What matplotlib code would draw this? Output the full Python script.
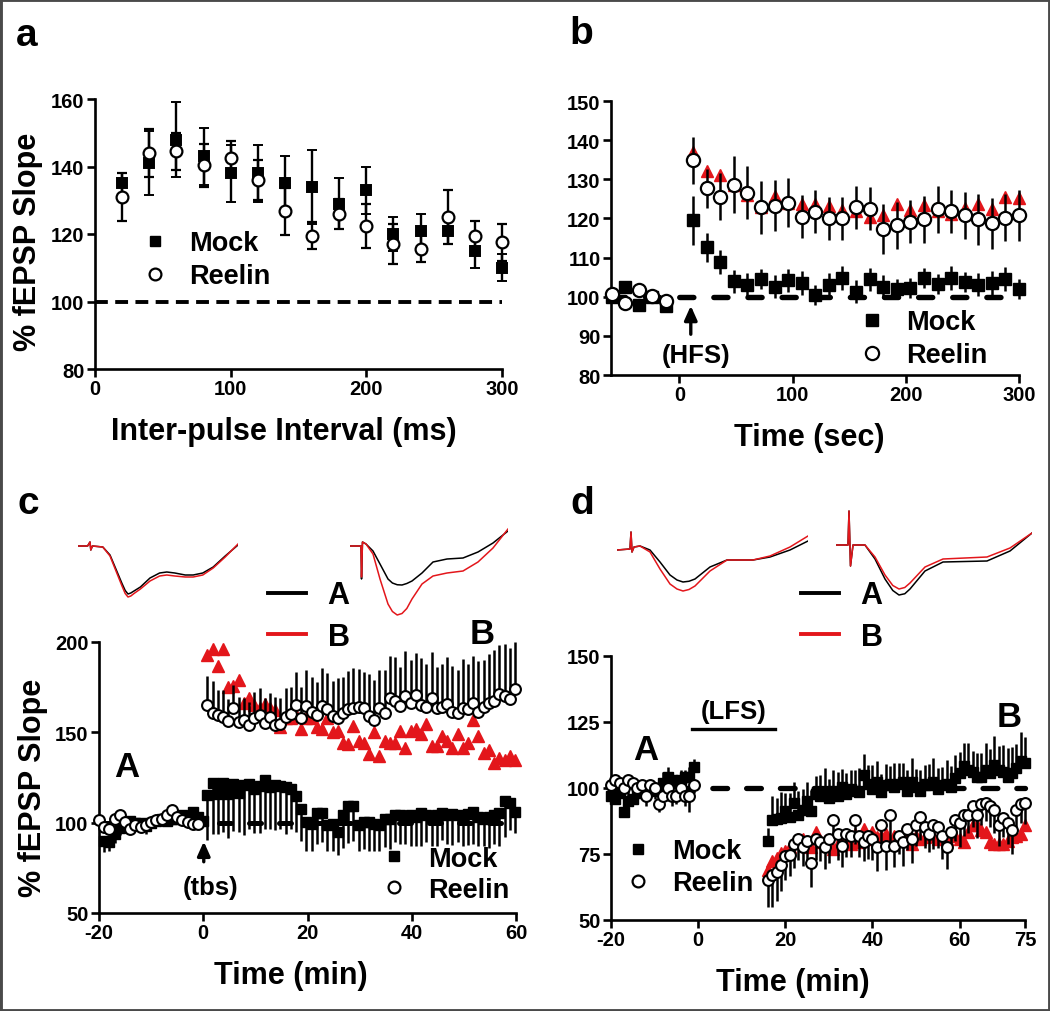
import numpy as np
import matplotlib
matplotlib.use("Agg")
import matplotlib.pyplot as plt
from matplotlib.lines import Line2D
from matplotlib.patches import Rectangle

plt.rcParams['font.family'] = ['Liberation Sans', 'DejaVu Sans']
plt.rcParams['font.weight'] = 'bold'
plt.rcParams['axes.unicode_minus'] = False

RED = '#e3161b'

# ---------------- Panel a data ----------------
ipi = [20, 40, 60, 80, 100, 120, 140, 160, 180, 200, 220, 240, 260, 280, 300]
mock_a = [135, 141, 148, 143, 138, 138, 135, 134, 129, 133, 120, 121, 121, 115, 110]
mock_a_err = [3, 9.5, 11, 8.5, 8.5, 8.5, 8, 11, 7.5, 7, 5, 5, 4, 5, 4]
reelin_a = [131, 144, 144.5, 140.3, 142.5, 136, 126.7, 119.5, 126, 122.5, 117, 115.7, 125, 119.5, 117.5]
reelin_a_err = [7, 7, 5.5, 6.5, 5, 6, 7, 4, 4.5, 6.5, 6, 4, 8, 4.5, 5.5]

# ---------------- Panel b data ----------------
t_b_pre = [-60, -48, -36, -24, -12]
mock_b_pre = [100, 102.4, 97.9, 100, 97.7]
reelin_b_pre = [100.7, 98.5, 101.6, 100.2, 98.8]
t_b_post = [12, 24, 36, 48, 60, 72, 84, 96, 108, 120, 132, 144, 156, 168, 180,
            192, 204, 216, 228, 240, 252, 264, 276, 288, 300]
mock_b = [119.5, 112.6, 108.9, 103.9, 103.1, 104.5, 102.6, 104.2, 103.5, 100.5, 103.1, 104.8, 101.3,
          104.4, 102.6, 102, 102.2, 104.8, 103.3, 104.8, 103.7, 103.1, 103.5, 104.5, 102]
mock_b_err = [6.3, 3.8, 3, 3, 3, 2.5, 3, 3, 3, 2.5, 3, 3, 3, 3, 3, 2.5, 2.5, 2.5, 2.5, 3, 2.5, 3, 3, 3, 2.5]
reelin_b = [134.8, 127.7, 125.5, 128.6, 126.6, 122.8, 123.2, 124, 120.4, 121.7, 120.1, 120.1, 122.9,
            122.5, 117.3, 118.2, 119.2, 119.8, 122.3, 121.8, 120.8, 119.8, 118.8, 120.2, 120.8]
reelin_b_err = [6, 5, 6, 7.3, 6.7, 6.7, 6.5, 6.3, 5.5, 5.5, 5.5, 5.5, 5.5, 5.5, 6.5, 6, 5.5, 6,
                6, 5.5, 6, 6.5, 6.5, 6, 6.5]
red_b = [137, 132, 131, 128.6, 126, 123, 125.8, 124, 123.6, 123.8, 123.2, 122.1, 122, 120.4, 120.8,
         123.8, 122.1, 123.4, 122, 121.2, 122.7, 123.8, 122.5, 125.5, 125.1]

# ---------------- Panel c data ----------------
t_c_pre_reelin = np.arange(-20, 0)
t_c_pre_mock = np.arange(-19, 1)
t_c_post = np.arange(1, 61) - 0.2
mock_c_pre = [90, 89.5, 94, 97, 99, 101, 100, 100, 98, 100, 101, 102, 101, 102, 102, 104, 103, 106, 103, 101]
mock_c_pre_err = [6, 5, 5, 4, 4, 4, 3, 3, 4, 3, 3, 3, 3, 3, 3, 3, 3, 4, 3, 3]
reelin_c_pre = [101.3, 97.6, 96.7, 102.2, 104, 100.4, 96.7, 98.5, 97.6, 98.5, 100.4, 101.3, 102.2, 104,
                106.8, 103.1, 101.3, 100.4, 99.4, 99.4]
reelin_c_pre_err = [3, 3, 2, 3, 2, 3, 2, 3, 2, 3, 2, 3, 2, 3, 3, 2, 3, 2, 3, 2]
mock_c = [115.3, 121.8, 115.7, 121.8, 115.7, 121.4, 116.6, 121, 121.4, 118.5,
          120.4, 123.7, 119.5, 121, 120.4, 119.5, 118.5, 114.7, 107.6, 100.4,
          99.4, 105.2, 105.2, 98.5, 99.4, 95, 104.2, 109, 109, 98.5,
          100.4, 100.4, 99.4, 98.5, 102.3, 102.3, 104.2, 104.2, 103.2, 104.2,
          103.2, 105.2, 104.2, 103.2, 104.2, 105.2, 104.2, 104.6, 104.2, 103.2,
          104.6, 106.1, 103.2, 102.3, 103.2, 104.2, 105.2, 111.8, 110.9, 106.1]
mock_c_err = [25, 28, 22, 27, 24, 26, 22, 28, 25, 24, 26, 27, 23, 25, 24, 26, 22, 20, 18, 16,
              15, 17, 16, 14, 15, 13, 18, 20, 19, 14, 15, 16, 15, 14, 16, 17, 15, 16, 15, 17,
              16, 18, 15, 16, 17, 15, 16, 17, 15, 16, 17, 18, 16, 15, 17, 16, 18, 20, 15, 12]
reelin_c = [165.4, 160.6, 159.6, 158.7, 156.4, 163.4, 155.8, 156.8, 153.9, 158.1,
            159.6, 155.2, 158.7, 154.3, 154.8, 158.7, 160, 165.4, 158.1, 164.4,
            161.5, 159.6, 164.4, 162.9, 159.2, 158.1, 160.6, 162.9, 163.4, 163.8,
            163.4, 159.2, 156.8, 163.4, 160.6, 169.2, 167.6, 164.4, 170.1, 166.3,
            170.7, 165.4, 163.8, 169.2, 163.4, 163.8, 165.7, 161.5, 160.6, 163.4,
            162.9, 166.1, 161.5, 163.8, 166.3, 167.6, 171.1, 170.1, 168.6, 174]
reelin_c_err = [16, 18, 14, 15, 12, 13, 14, 12, 13, 14, 15, 14, 13, 15, 14, 16, 15, 18, 17, 20,
                19, 18, 21, 20, 19, 22, 20, 21, 22, 21, 20, 23, 22, 21, 24, 23, 24, 22, 25, 24,
                23, 26, 24, 25, 23, 24, 26, 25, 24, 27, 25, 26, 28, 26, 27, 28, 27, 29, 28, 26]
red_c = [193, 196, 186.8, 196, 174.9, 175.9, 178.7, 166.3, 169.2, 165.4,
         163.4, 165.7, 163.4, 162.5, 152.9, 157.7, 158.1, 159.6, 151.6, 158.1,
         157.7, 152.9, 151.6, 157.7, 150.4, 151, 144.3, 143.4, 153.5, 145.3,
         143.9, 138.2, 150.4, 137.1, 145.3, 144.3, 144, 151, 141.5, 151,
         151.6, 149.1, 154.8, 142.4, 142.4, 148.2, 145.3, 141.5, 149.1, 141.5,
         144.3, 156.8, 148.2, 138.6, 140.1, 132.9, 135.7, 134.8, 136.7, 134.8]

# ---------------- Panel d data ----------------
t_d_pre = np.arange(-20, 0)
t_d_post = np.arange(16, 76)
mock_d_pre = [97, 96, 98, 91, 95, 96, 98, 99, 98, 100, 99, 100, 102, 104, 103, 102, 103, 104, 104, 108]
mock_d_pre_err = [3, 4, 3, 3, 4, 3, 3, 3, 4, 3, 3, 3, 4, 4, 3, 3, 4, 3, 4, 3]
reelin_d_pre = [101, 103, 102, 100, 103, 102, 100, 101, 97, 101, 100, 94, 97, 100, 97, 97, 100, 97, 97, 101]
reelin_d_pre_err = [3, 4, 3, 4, 3, 4, 5, 3, 4, 3, 4, 3, 4, 5, 4, 3, 4, 4, 6, 3]
mock_d = [79.8, 87.9, 88.3, 88.6, 91.2, 89.2, 94.4, 89.9, 91.8, 95.1,
          91.2, 97.7, 97.1, 98.4, 96.4, 99, 97.1, 100.3, 97.7, 99.7,
          99, 98.4, 104.9, 101.6, 99.7, 102.3, 98.4, 101, 101.4, 100.3,
          101.6, 102.3, 99, 102.3, 100.3, 99, 101.6, 101, 102.3, 99.7,
          101, 101.6, 100.3, 103.6, 105.6, 108.2, 106.9, 106.2, 104.2, 104.2,
          106.9, 105.6, 108.8, 106.9, 106.2, 104.2, 105.6, 107.5, 110.1, 109.5]
mock_d_err = [5, 9, 8, 10, 7, 9, 8, 9, 8, 7, 8, 7, 8, 9, 7, 8, 9, 7, 8, 7,
              8, 9, 8, 7, 9, 8, 7, 8, 7, 9, 8, 7, 8, 9, 7, 8, 7, 8, 9, 8,
              7, 9, 8, 9, 8, 9, 10, 8, 9, 9, 10, 9, 11, 9, 10, 11, 10, 9, 11, 10]
reelin_d = [65, 67, 68.3, 70.9, 74.2, 74.8, 78.8, 80.7, 77.5, 80.1,
            71.6, 80.7, 79.4, 77.5, 80.7, 87.9, 82.7, 78.1, 82.7, 82,
            87.9, 82, 79.4, 82, 80.7, 77.5, 86, 78.1, 89.9, 78.1,
            82, 79.4, 84.6, 80.7, 86, 89.2, 85.3, 82.7, 86, 85.3,
            82, 77.5, 83.3, 87.9, 86.6, 89.9, 89.9, 93.1, 89.9, 93.8,
            94.4, 93.1, 91.8, 86, 88.6, 86.6, 84, 91.8, 93.8, 94.4]
reelin_d_err = [10, 12, 11, 10, 9, 8, 9, 8, 7, 8, 9, 8, 7, 8, 9, 8, 10, 8, 9, 8,
                9, 8, 7, 9, 8, 9, 8, 9, 10, 8, 7, 9, 8, 9, 8, 9, 8, 7, 9, 8,
                9, 8, 7, 8, 9, 8, 7, 8, 9, 8, 7, 8, 9, 8, 7, 8, 9, 8, 7, 8]
red_d = [69, 72.2, 73.5, 75.5, 76.1, 77.5, 79.4, 80.7, 80.7, 78.1,
         77.5, 83.3, 79.4, 80.1, 79.4, 76.8, 78.8, 80.7, 81.4, 78.8,
         82.7, 79.4, 84.6, 80.7, 83.3, 81.4, 82, 82.7, 80.1, 82,
         81.4, 80.7, 83.3, 78.8, 82, 80.7, 81.4, 82.7, 82, 80.7,
         82, 80.7, 82.7, 82, 80.7, 79.4, 83.3, 86, 86, 84,
         83.3, 79.4, 78.8, 78.8, 78.8, 80.1, 81.4, 82, 82.7, 86]

# ---------------- Representative traces (ms, mV) ----------------
tr_c1_t = [0, 1.2, 1.5, 1.6, 1.8, 3.1, 4.0, 5.0, 5.5, 5.9, 6.25, 6.6, 7.0, 7.8, 9.0, 10.2, 11.1, 12.1,
           13.4, 14.4, 15.6, 16.9, 18.4, 20.0]
tr_c1_a = [0, 0, 0.16, -0.16, 0, -0.04, -0.36, -1.12, -1.5, -1.78, -1.92, -1.88, -1.8, -1.64, -1.28,
           -1.08, -1.04, -1.08, -1.16, -1.16, -1.08, -0.84, -0.4, 0.04]
tr_c1_b = [0, 0, 0.16, -0.16, 0, -0.04, -0.4, -1.2, -1.6, -1.9, -2.04, -2.0, -1.9, -1.72, -1.4,
           -1.2, -1.16, -1.2, -1.24, -1.24, -1.16, -0.88, -0.44, 0.08]
tr_c2_t = [0, 1.375, 1.44, 1.56, 2.0, 2.875, 3.75, 4.75, 5.3, 5.9, 6.5, 7.1, 7.75, 9.0, 10.375, 12.125,
           14.125, 16.0, 17.875, 19.75]
tr_c2_a = [0, 0, -1.32, 0.16, 0.08, -0.2, -0.72, -1.32, -1.48, -1.55, -1.56, -1.5, -1.4, -1.08, -0.64,
           -0.52, -0.48, -0.24, 0.12, 0.6]
tr_c2_b = [0, 0, -1.24, 0.16, 0.08, -0.32, -1.32, -2.32, -2.62, -2.76, -2.7, -2.5, -2.12, -1.52, -1.2,
           -1.08, -1.0, -0.64, -0.08, 0.68]
tr_d1_t = [0, 1.625, 1.75, 1.875, 2.125, 2.875, 4.125, 5.375, 6.625, 7.5, 8.25, 9.0, 9.75, 11.625,
           13.75, 17.0, 19.125, 21.625, 23.875]
tr_d1_a = [0, 0.04, 0.72, -0.08, 0.12, 0.16, 0, -0.48, -1.0, -1.2, -1.28, -1.25, -1.16, -0.68,
           -0.4, -0.4, -0.28, 0, 0.36]
tr_d1_b = [0, 0.04, 0.72, -0.08, 0.12, 0.16, -0.08, -0.76, -1.36, -1.56, -1.64, -1.58, -1.44, -0.84,
           -0.4, -0.4, -0.24, 0.12, 0.56]
tr_d2_t = [0, 1.5, 1.625, 1.8125, 2.125, 3.625, 4.875, 6.125, 7.1, 7.875, 8.6, 9.25, 11.125, 13.375,
           18.875, 21.75, 24.5]
tr_d2_a = [0, 0, 1.36, -0.84, 0, 0, -0.56, -1.36, -1.82, -2.0, -1.95, -1.76, -1.04, -0.68, -0.64,
           -0.24, 0.48]
tr_d2_b = [0, 0, 1.36, -0.84, 0, 0, -0.48, -1.2, -1.62, -1.76, -1.7, -1.52, -0.88, -0.56, -0.48,
           -0.12, 0.48]

W, H = 1050, 1012
fig = plt.figure(figsize=(W / 100, H / 100), dpi=100)


def px_axes(x0, y0, x1, y1):
    """axes from pixel box (left, top, right, bottom)"""
    return fig.add_axes([x0 / W, 1 - y1 / H, (x1 - x0) / W, (y1 - y0) / H])


def style(ax):
    for s in ['top', 'right']:
        ax.spines[s].set_visible(False)
    for s in ['left', 'bottom']:
        ax.spines[s].set_linewidth(1.9)
    ax.tick_params(direction='out', length=5.5, width=1.9, labelsize=14.5, pad=2)
    for lab in ax.get_xticklabels() + ax.get_yticklabels():
        lab.set_fontweight('bold')


def labels(ax, xl, xpos, yl=None, ypos=None):
    ax.set_xlabel(xl, fontsize=22, fontweight='bold', va='center')
    ax.xaxis.set_label_coords(*xpos)
    if yl:
        ax.set_ylabel(yl, fontsize=22, fontweight='bold', va='center')
        ax.yaxis.set_label_coords(*ypos)


def dashed(ax, x0, x1, lw, dash, cap='round', z=1):
    ax.plot([x0, x1], [100, 100], color='black', lw=lw, linestyle=(0, dash),
            dash_capstyle=cap, zorder=z, clip_on=False)


def legend(ax, anchor, ms_sq, ms_ci, spacing):
    lg = ax.legend(handles=[Line2D([], [], ms=ms_sq, **SQ), Line2D([], [], ms=ms_ci, mew=1.6, **CI)],
                   labels=['Mock', 'Reelin'], loc='center left', bbox_to_anchor=anchor,
                   frameon=False, fontsize=19.5, handlelength=1.0, handletextpad=0.75,
                   labelspacing=spacing, borderpad=0, borderaxespad=0)
    for t in lg.get_texts():
        t.set_fontweight('bold')


SQ = dict(marker='s', color='black', mec='black', linestyle='none', clip_on=False)
CI = dict(marker='o', mfc='white', mec='black', linestyle='none', clip_on=False)
TR = dict(marker='^', color=RED, mec=RED, linestyle='none', clip_on=False)
ARROW = dict(arrowstyle='-|>,head_width=0.38,head_length=0.85', color='black', lw=2.4)

# ================= Panel a =================
axa = px_axes(95, 100, 502, 370)
dashed(axa, 0, 300, 2.8, (3.3, 1.9), cap='butt', z=1)
axa.errorbar(ipi, mock_a, yerr=mock_a_err, ms=7.5, mew=1.4, ecolor='black', elinewidth=1.7,
             capsize=3.8, capthick=1.7, zorder=3, **SQ)
axa.errorbar(ipi, reelin_a, yerr=reelin_a_err, ms=8.5, mew=1.6, ecolor='black', elinewidth=1.7,
             capsize=3.8, capthick=1.7, zorder=4, **CI)
axa.set_xlim(0, 300)
axa.set_ylim(80, 160)
axa.set_xticks([0, 100, 200, 300])
axa.set_yticks([80, 100, 120, 140, 160])
style(axa)
labels(axa, 'Inter-pulse Interval (ms)', (0.464, -0.23), '% fEPSP Slope', (-0.165, 0.475))
legend(axa, (0.115, 0.405), 7.5, 8.5, 0.25)

# ================= Panel b =================
axb = px_axes(611, 102, 1019, 376)
dashed(axb, -60.5, 300, 3.9, (2.6, 3.7), z=1)
axb.plot(t_b_post, red_b, ms=8.5, zorder=2, **TR)
axb.errorbar(t_b_pre + t_b_post, mock_b_pre + mock_b, yerr=[0] * 5 + mock_b_err, ms=8,
             ecolor='black', elinewidth=1.8, zorder=3, **SQ)
axb.errorbar(t_b_pre + t_b_post, reelin_b_pre + reelin_b, yerr=[0] * 5 + reelin_b_err, ms=9.5,
             mew=1.6, ecolor='black', elinewidth=1.8, zorder=4, **CI)
axb.set_xlim(-60.5, 300)
axb.set_ylim(80, 150)
axb.set_xticks([0, 100, 200, 300])
axb.set_yticks([80, 90, 100, 110, 120, 130, 140, 150])
style(axb)
labels(axb, 'Time (sec)', (0.486, -0.225))
axb.annotate('', xy=(10, 98.4), xytext=(10, 89.7), arrowprops=ARROW)
axb.text(14.9, 85, '(HFS)', ha='center', va='center', fontsize=18.5, fontweight='bold')
legend(axb, (0.607, 0.132), 8, 9.5, 0.25)

# ================= Panel c =================
axc = px_axes(99, 643, 516, 914)
dashed(axc, -20, 60, 3.6, (2.4, 3.6), z=1)
axc.plot(t_c_post, red_c, ms=8, zorder=2, **TR)
axc.errorbar(t_c_pre_mock, mock_c_pre, yerr=[mock_c_pre_err, [0] * 20], ms=7,
             ecolor='black', elinewidth=1.8, zorder=3, **SQ)
axc.errorbar(t_c_post, mock_c, yerr=[mock_c_err, [0] * 60], ms=7,
             ecolor='black', elinewidth=1.8, zorder=3, **SQ)
axc.errorbar(t_c_pre_reelin, reelin_c_pre, yerr=[[0] * 20, reelin_c_pre_err], ms=7.8, mew=1.5,
             ecolor='black', elinewidth=1.8, zorder=4, **CI)
axc.errorbar(t_c_post, reelin_c, yerr=[[0] * 60, reelin_c_err], ms=7.8, mew=1.5,
             ecolor='black', elinewidth=1.8, zorder=4, **CI)
axc.set_xlim(-20, 60)
axc.set_ylim(50, 200)
axc.set_xticks([-20, 0, 20, 40, 60])
axc.set_yticks([50, 100, 150, 200])
style(axc)
labels(axc, 'Time (min)', (0.459, -0.228), '% fEPSP Slope', (-0.159, 0.465))
axc.annotate('', xy=(0.1, 91.1), xytext=(0.1, 76.8), arrowprops=ARROW)
axc.text(1.4, 64.3, '(tbs)', ha='center', va='center', fontsize=18.5, fontweight='bold')
axc.text(-14.6, 131.2, 'A', ha='center', va='center', fontsize=25, fontweight='bold')
axc.text(53.5, 204.8, 'B', ha='center', va='center', fontsize=25, fontweight='bold')
legend(axc, (0.676, 0.143), 7.5, 8.5, 0.2)

# ================= Panel d =================
axd = px_axes(611, 657, 1025, 921)
dashed(axd, -20, 75, 3.8, (2.8, 3.6), z=1)
axd.plot(t_d_post, red_d, ms=8, zorder=2, **TR)
axd.errorbar(t_d_pre, mock_d_pre, yerr=[[0] * 20, mock_d_pre_err], ms=7,
             ecolor='black', elinewidth=1.8, zorder=3, **SQ)
axd.errorbar(t_d_post, mock_d, yerr=[[0] * 60, mock_d_err], ms=7,
             ecolor='black', elinewidth=1.8, zorder=3, **SQ)
axd.errorbar(t_d_pre, reelin_d_pre, yerr=[reelin_d_pre_err, [0] * 20], ms=7.8, mew=1.5,
             ecolor='black', elinewidth=1.8, zorder=4, **CI)
axd.errorbar(t_d_post, reelin_d, yerr=[reelin_d_err, [0] * 60], ms=7.8, mew=1.5,
             ecolor='black', elinewidth=1.8, zorder=4, **CI)
axd.set_xlim(-20, 75)
axd.set_ylim(50, 150)
axd.set_xticks([-20, 0, 20, 40, 60, 75])
axd.set_yticks([50, 75, 100, 125, 150])
style(axd)
labels(axd, 'Time (min)', (0.44, -0.234))
axd.plot([-1.3, 17.7], [122.3, 122.3], color='black', lw=2.4)
axd.text(8.2, 129.1, '(LFS)', ha='center', va='center', fontsize=18.5, fontweight='bold')
axd.text(-12.1, 114.7, 'A', ha='center', va='center', fontsize=25, fontweight='bold')
axd.text(71.3, 127.2, 'B', ha='center', va='center', fontsize=25, fontweight='bold')
legend(axd, (0.033, 0.2), 7.5, 8.5, 0.22)

# ================= traces =================
def trace(box, t, a, b, ylim):
    ax = px_axes(*box)
    ax.plot(t, a, color='black', lw=1.1, solid_joinstyle='round')
    ax.plot(t, b, color=RED, lw=1.1, solid_joinstyle='round')
    ax.set_xlim(t[0], t[-1])
    ax.set_ylim(*ylim)
    ax.axis('off')
    return ax

trace((78, 525, 238, 605), tr_c1_t, tr_c1_a, tr_c1_b, (-2.32, 0.88))
trace((350, 525, 508, 620), tr_c2_t, tr_c2_a, tr_c2_b, (-2.92, 0.88))
trace((617, 525, 808, 600), tr_d1_t, tr_d1_a, tr_d1_b, (-1.96, 1.04))
trace((836, 505, 1032, 600), tr_d2_t, tr_d2_a, tr_d2_b, (-2.16, 1.64))

for x0, yc in [(268, 617), (801, 617.3)]:
    lg = fig.legend(handles=[Line2D([], [], color='black', lw=2.8), Line2D([], [], color=RED, lw=2.8)],
                    labels=['A', 'B'], loc='center left', bbox_to_anchor=(x0 / W, 1 - yc / H),
                    frameon=False, fontsize=22, handlelength=1.25, handletextpad=0.7,
                    labelspacing=0.38, borderpad=0, borderaxespad=0)
    for t in lg.get_texts():
        t.set_fontweight('bold')

# panel letters
for lab, x, y in [('a', 27, 36), ('b', 581, 34), ('c', 28, 504), ('d', 582, 504)]:
    fig.text(x / W, 1 - y / H, lab, fontsize=28, fontweight='bold', ha='center', va='center')

fig.patches.append(Rectangle((0, 0), 1, 1, transform=fig.transFigure, fill=False,
                             edgecolor='#4a4a4a', lw=3.5))

fig.savefig('out.png', dpi=100)
